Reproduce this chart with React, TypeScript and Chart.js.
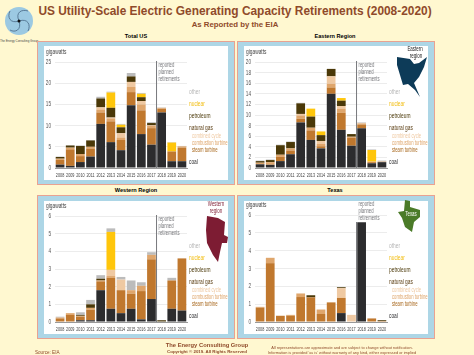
import React, { useEffect, useRef } from "react";
import { Chart, registerables } from "chart.js";

Chart.register(...registerables);

const years = ["2008","2009","2010","2011","2012","2013","2014","2015","2016","2017","2018","2019","2020"];

// Total US
const usCoal = [0.8,0.5,1.4,2.7,10.4,6.1,4.2,14.8,8,5.5,13.1,1.6,1.6];
const usSteam = [1.1,3.9,1.4,1.9,2.7,4.9,2.4,3.1,5.6,3.9,0.9,2.3,3.2];
const usCombustion = [0.3,0.4,0.5,0.4,0.7,0.7,0.6,1.2,1.4,0.6,0.1,0,0.3];
const usCombined = [0,0,0,0,0.5,0.2,1,1.2,0.8,0.1,0.1,0,0];
const usPetroleum = [0.4,0.5,1.9,1.5,2.1,2.3,1.4,1.3,0.9,0.5,0,0,0];
const usNuclear = [0,0,0,0,0,3.6,0.6,0,0.8,0,0,2.1,0];
const usOther = [0.1,0.1,0.1,0.1,0.4,0.2,0.2,0.8,0.2,0.2,0.1,0.1,0.1];

// Eastern Region
const eaCoal = [0.7,0.6,1.3,2.6,8.6,5.3,3.7,14,7.2,4.2,7.5,0.9,1.1];
const eaSteam = [0,0,0.8,0.7,0.7,1.8,0.4,1.2,3.2,1.5,0.7,0.2,0];
const eaCombustion = [0.3,0.5,0.4,0.4,0.6,0.5,0.5,0.7,0.8,0.2,0.2,0.1,0.1];
const eaCombined = [0,0,0,0,0.3,0,0.5,1.4,0.5,0,0.1,0,0];
const eaPetroleum = [0.3,0.4,1.8,1.2,2,2.1,1.1,1.4,1,0.5,0,0,0];
const eaNuclear = [0,0,0,0,0,1.5,0.7,0,0.5,0,0,2.2,0];
const eaOther = [0.1,0.1,0.1,0.1,0.1,0,0,0,0,0,0.1,0.1,0.2];

// Western Region
const weCoal = [0,0,0.1,0.1,1.8,0.75,0.5,0.75,0.15,1.3,0,0.75,0.65];
const weSteam = [0.2,0.4,0.2,0.6,0.5,1.75,1.3,0.85,1.6,2.25,0,1.6,2.95];
const weCombustion = [0.05,0.1,0.05,0.1,0.05,0.1,0,0.2,0.3,0.25,0,0,0];
const weCombined = [0,0,0,0,0,0.35,0.6,0,0,0,0,0,0];
const wePetroleum = [0,0,0.05,0.2,0.1,0,0,0,0,0,0.1,0,0];
const weNuclear = [0,0,0,0,0,2.15,0,0,0,0,0,0,0];
const weOther = [0.05,0,0.15,0.25,0.2,0.2,0.15,0.55,0.2,0.15,0,0.15,0];

// Texas
const txCoal = [0,0,0,0,0,0,0,0,0.5,0,5.6,0,0];
const txSteam = [0.8,3.3,0.35,0.35,1.4,1.38,0.45,1.1,0.85,0,0,0.2,0.05];
const txCombustion = [0.05,0.3,0,0.05,0.2,0,0.25,0,0,0,0,0,0];
const txCombined = [0,0,0,0,0,0,0,0,0.55,0.4,0,0,0];
const txPetroleum = [0,0,0,0,0,0.12,0,0,0.05,0,0,0,0.05];
const txNuclear = [0,0,0,0,0,0,0,0,0,0,0,0,0];
const txOther = [0,0,0,0,0,0,0,0,0,0,0,0,0];

const seriesNames = ["coal","steam turbine","combustion turbine","combined cycle","petroleum","nuclear","other"];
const seriesColors = ["#2c2c2e","#c0782e","#dfa66c","#efc9a2","#4a3808","#ffc60b","#bcbcbc"];

const ARIAL = '"Liberation Sans", Arial, sans-serif';
const SQUEEZE = 0.62;

const legendRows = [
  { t: "other", c: "#b5b5b5", dy: -76, dx: 2, size: 7.8 },
  { t: "nuclear", c: "#f2bd10", dy: -64.5, dx: 2, size: 7.8 },
  { t: "petroleum", c: "#4a3808", dy: -52, dx: 2, size: 7.8 },
  { t: "natural gas", c: "#5a3d12", dy: -40, dx: 2, size: 7.8 },
  { t: "combined cycle", c: "#efc9a2", dy: -32, dx: 5, size: 6.8 },
  { t: "combustion turbine", c: "#dfa66c", dy: -25, dx: 5, size: 6.8 },
  { t: "steam turbine", c: "#a9691f", dy: -18, dx: 5, size: 6.8 },
  { t: "coal", c: "#2c2c2e", dy: -6, dx: 2, size: 7.8 },
];

type PanelDef = {
  series: number[][];
  max: number;
  step: number;
  top: number;
  left: number;
  canvasTop: number;
  noteAbove?: boolean;
};

const panels: PanelDef[] = [
  { series: [usCoal,usSteam,usCombustion,usCombined,usPetroleum,usNuclear,usOther], max: 25, step: 5, top: 62, left: 44, canvasTop: 46 },
  { series: [eaCoal,eaSteam,eaCombustion,eaCombined,eaPetroleum,eaNuclear,eaOther], max: 20, step: 2, top: 62, left: 244, canvasTop: 46 },
  { series: [weCoal,weSteam,weCombustion,weCombined,wePetroleum,weNuclear,weOther], max: 6, step: 1, top: 216, left: 44, canvasTop: 201 },
  { series: [txCoal,txSteam,txCombustion,txCombined,txPetroleum,txNuclear,txOther], max: 6, step: 1, top: 215, left: 244, canvasTop: 201, noteAbove: true },
];

function narrow(ctx: any, text: string, x: number, y: number, size: number, color: string, align: string = "left") {
  ctx.save();
  ctx.translate(x, y);
  ctx.scale(SQUEEZE, 1);
  ctx.font = `${size}px ${ARIAL}`;
  ctx.fillStyle = color;
  ctx.textAlign = align;
  ctx.textBaseline = "middle";
  ctx.fillText(text, 0, 0);
  ctx.restore();
}

function Panel({ def }: { def: PanelDef }) {
  const ref = useRef<HTMLCanvasElement>(null);
  useEffect(() => {
    const height = 134;
    const bottomEdge = def.canvasTop === 46 ? 168 : 322;
    const overlay = {
      id: "overlay",
      afterDraw(chart: any) {
        const { ctx, chartArea: a, scales } = chart;
        ctx.save();
        scales.x.ticks.forEach((t: any, i: number) => {
          narrow(ctx, String(t.label), scales.x.getPixelForTick(i), a.bottom + 7, 6.1, "#444", "center");
        });
        scales.y.ticks.forEach((t: any, i: number) => {
          narrow(ctx, String(t.label), a.left - 4, scales.y.getPixelForTick(i), 7.6, "#555", "right");
        });
        const x = (scales.x.getPixelForValue(9) + scales.x.getPixelForValue(10)) / 2;
        const lineTop = def.noteAbove ? a.top + 7 : a.top - 1;
        ctx.strokeStyle = "#77787c";
        ctx.lineWidth = 1;
        ctx.beginPath();
        ctx.moveTo(x, lineTop);
        ctx.lineTo(x, a.bottom);
        ctx.stroke();
        const noteY = def.noteAbove ? a.top - 11 : a.top + 3;
        ["reported", "planned", "retirements"].forEach((s, i) => narrow(ctx, s, x + 2, noteY + i * 7, 6.8, "#77787c"));
        legendRows.forEach((r) => narrow(ctx, r.t, a.right + r.dx, a.bottom + r.dy, r.size, r.c));
        narrow(ctx, "gigawatts", a.left - 9, a.top - 10, 7.8, "#444");
        ctx.restore();
      },
    };
    const chart = new Chart(ref.current as HTMLCanvasElement, {
      type: "bar",
      data: {
        labels: years,
        datasets: def.series.map((d, i) => ({
          label: seriesNames[i],
          data: d,
          backgroundColor: seriesColors[i],
          stack: "s",
          barPercentage: 0.86,
          categoryPercentage: 1,
        })),
      },
      options: {
        animation: false,
        responsive: false,
        layout: { padding: { left: 0, right: 41, top: def.top - def.canvasTop, bottom: def.canvasTop + height - bottomEdge - 12 } },
        plugins: { legend: { display: false }, tooltip: { enabled: false } },
        scales: {
          x: {
            stacked: true,
            grid: { display: false },
            border: { color: "#999", width: 1 },
            afterFit: (s: any) => { s.height = 12; },
            ticks: { display: false, autoSkip: false },
          },
          y: {
            stacked: true,
            min: 0,
            max: def.max,
            afterFit: (s: any) => { s.width = 11; },
            grid: { color: "#ececec", lineWidth: 1, drawTicks: false },
            border: { display: false },
            ticks: { display: false, stepSize: def.step },
          },
        },
      },
      plugins: [overlay],
    } as any);
    return () => chart.destroy();
  }, [def]);
  return (
    <canvas
      ref={ref}
      width={184}
      height={134}
      style={{ position: "absolute", left: def.left, top: def.canvasTop, width: 184, height: 134 }}
    />
  );
}

function Frame({ x, y, w, h, ix, iy, iw, ih }: any) {
  return (
    <>
      <div style={{ position: "absolute", left: x, top: y, width: w, height: h, background: "#add6e6", border: "1.5px solid #e9a291", boxSizing: "border-box" }} />
      <div style={{ position: "absolute", left: ix, top: iy, width: iw, height: ih, background: "#fff" }} />
    </>
  );
}

function Label({ x, y, text, size, color = "#000", bold = true, align = "center", squeeze = 1 }: any) {
  const tx = align === "center" ? "-50%" : align === "right" ? "-100%" : "0";
  return (
    <div style={{ position: "absolute", left: x, top: y, transform: `translate(${tx},-50%) scaleX(${squeeze})`, fontFamily: ARIAL, fontSize: size, fontWeight: bold ? 700 : 400, color, whiteSpace: "nowrap", lineHeight: 1 }}>
      {text}
    </div>
  );
}

export default function App() {
  useEffect(() => { document.body.style.margin = "0"; }, []);
  const brown = "#8f4a2a";
  return (
    <div style={{ position: "absolute", left: 0, top: 0, width: 474, height: 355, overflow: "hidden", background: "#fff8d0" }}>
      <Label x={235} y={12} text="US Utility-Scale Electric Generating Capacity Retirements (2008-2020)" size={11.9} color={brown} />
      <Label x={235} y={25} text="As Reported by the EIA" size={7.8} color={brown} />

      <svg style={{ position: "absolute", left: 0, top: 0 }} width={474} height={355}>
        <circle cx={19} cy={21} r={14} fill="#9cc9e2" />
        <path d="M19 21 C15 12 22 9 28 11 M19 21 C28 18 31 25 28 31 M19 21 C22 30 15 33 10 30 M19 21 C10 24 7 17 10 11" stroke="#3c5a78" strokeWidth={0.7} fill="none" />
        <circle cx={19} cy={21} r={1.5} fill="#111" />
      </svg>
      <Label x={19} y={40.5} text="The Energy Consulting Group" size={2.9} bold={false} color="#444" />

      <Label x={136} y={36.5} text="Total US" size={5.6} />
      <Label x={335} y={36.5} text="Eastern Region" size={5.6} />
      <Label x={136} y={190.5} text="Western Region" size={5.6} />
      <Label x={335} y={190.5} text="Texas" size={5.6} />

      <Frame x={37} y={41} w={198} h={143.5} ix={44} iy={46} iw={184} ih={134} />
      <Frame x={237} y={41} w={198} h={143.5} ix={244} iy={46} iw={184} ih={134} />
      <Frame x={37} y={195} w={198} h={144} ix={44} iy={201} iw={184} ih={133} />
      <Frame x={237} y={195} w={198} h={144} ix={244} iy={201} iw={184} ih={133} />

      {panels.map((p, i) => <Panel key={i} def={p} />)}

      <svg style={{ position: "absolute", left: 0, top: 0 }} width={474} height={355}>
        <polygon points="397,57 410,59 414,64 419,63 427,57 424,67 419,77 414,83 420,97 415,90 408,84 403,85 400,75 397,65" fill="#0d3b58" />
        <polygon points="207,216 218,218 225,222 224,235 228,237 227,243 222,243 220,252 218,262 213,255 207,243 206,230" fill="#7d1c33" />
        <polygon points="405,200 410,201 410,207 420,210 420,217 414,222 412,232 405,227 402,218 398,212 404,211" fill="#4b7b28" />
      </svg>
      <Label x={415} y={48.5} text="Eastern" size={6.8} bold={false} squeeze={0.65} color="#222" />
      <Label x={416} y={56} text="region" size={6.8} bold={false} squeeze={0.65} color="#222" />
      <Label x={216} y={203.5} text="Western" size={6.8} bold={false} squeeze={0.65} color="#7d1c33" />
      <Label x={216} y={210.5} text="region" size={6.8} bold={false} squeeze={0.65} color="#7d1c33" />
      <Label x={411} y={214} text="Texas" size={6.8} bold={false} squeeze={0.65} color="#fff" />

      <Label x={35} y={352.5} text="Source: EIA" size={4.6} bold={false} align="left" color={brown} />
      <Label x={207} y={345.5} text="The Energy Consulting Group" size={5.8} color={brown} />
      <Label x={207} y={352} text="Copyright © 2019. All Rights Reserved" size={4.4} color={brown} />
      <Label x={342} y={347.5} text="All representations are approximate and are subject to change without notification." size={3.9} bold={false} color={brown} />
      <Label x={342} y={352.5} text="Information is provided 'as is' without warranty of any kind, either expressed or implied" size={3.9} bold={false} color={brown} />
    </div>
  );
}
